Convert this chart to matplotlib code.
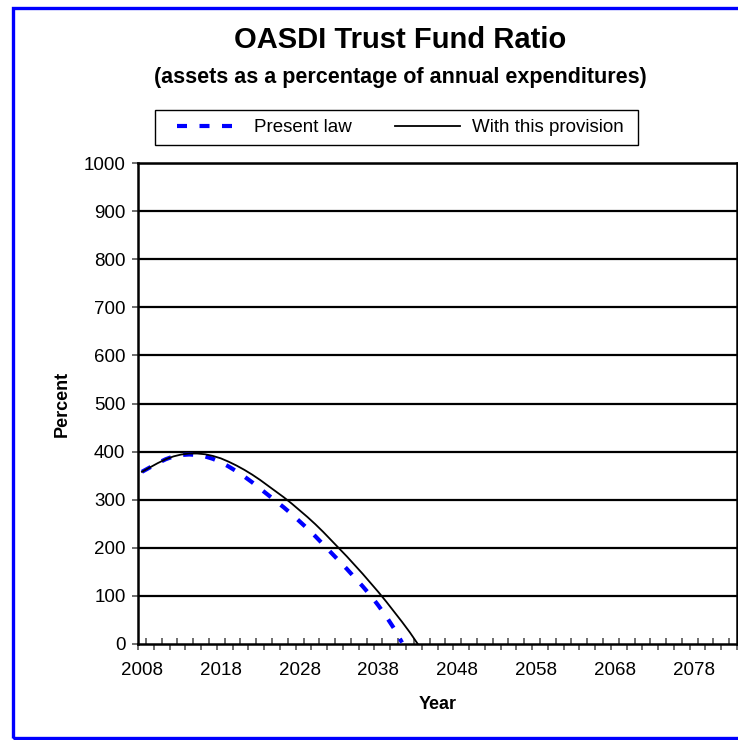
import matplotlib
matplotlib.use("Agg")
import matplotlib.pyplot as plt
from matplotlib.patches import Rectangle

plt.rcParams['font.family'] = ['Liberation Sans', 'DejaVu Sans']

# trust fund ratio, percent of annual expenditures
years_present = list(range(2008, 2042))
present_law = [358, 367, 376, 384, 390, 393, 394, 393, 390, 385,
               378, 369, 359, 348, 336, 323, 310, 297, 284, 270,
               255, 240, 224, 207, 190, 173, 156, 138, 120, 101,
               80, 57, 32, 3]

years_prov = list(range(2008, 2044))
with_provision = [358, 367, 376, 384, 390, 394, 396, 396, 394.5, 391,
                  386, 379, 371, 362, 352, 341, 329, 317, 305, 292,
                  278, 264, 249, 233, 216, 199, 182, 164, 146, 127,
                  108, 88, 67, 46, 24, 0]

year_labels = list(range(2008, 2079, 10))
y_ticks = list(range(0, 1001, 100))

fig = plt.figure(figsize=(7.38, 7.40), dpi=100)
ax = fig.add_axes([138/738, 1-644/740, 599/738, 481/740])

ax.plot(years_present, present_law, color='#0000FF', lw=3.0,
        dashes=(2.4, 3.0), dash_capstyle='butt', label='Present law', zorder=4)
ax.plot(years_prov, with_provision, color='black', lw=1.3,
        label='With this provision', zorder=5)

ax.set_xlim(2007.5, 2083.5)
ax.set_ylim(0, 1000)

# horizontal gridlines
for v in y_ticks[1:]:
    ax.axhline(v, color='black', lw=1.6, zorder=2)

for s in ax.spines.values():
    s.set_linewidth(1.8)
    s.set_color('black')

ax.set_yticks(y_ticks)
ax.tick_params(axis='y', direction='out', length=4, width=1.2, color='#555555',
               labelsize=13.5, pad=5)

# year labels centred on categories, tick marks between categories
ax.set_xticks(year_labels)
ax.set_xticklabels([str(y) for y in year_labels])
ax.tick_params(axis='x', which='major', length=0, labelsize=13.5, pad=13)
ax.set_xticks([y - 0.5 for y in range(2008, 2085, 2)], minor=True)
ax.tick_params(axis='x', which='minor', direction='out', length=4, width=1.2,
               color='#555555')
sec = ax.secondary_xaxis('bottom')
sec.set_xticks([y + 0.5 for y in range(2008, 2083, 2)])
sec.set_xticklabels([])
sec.tick_params(direction='in', length=4, width=1.2, color='#555555')
sec.spines['bottom'].set_visible(False)

ax.set_xlabel('Year', fontsize=13, fontweight='bold', labelpad=12)
ax.set_ylabel('Percent', fontsize=13, fontweight='bold', labelpad=9)

fig.text(400/738, 1-40/740, 'OASDI Trust Fund Ratio', fontsize=21,
         fontweight='bold', ha='center', va='center')
fig.text(400/738, 1-78/740, '(assets as a percentage of annual expenditures)',
         fontsize=15.5, fontweight='bold', ha='center', va='center')

# legend box and entries
fig.patches.append(Rectangle((155/738, 1-145/740), 483/738, 35/740,
                             transform=fig.transFigure, fill=False,
                             edgecolor='black', lw=1.0))
leg = fig.legend(loc='center left', bbox_to_anchor=(177/738, 1-127.5/740),
                 ncol=2, fontsize=13.5, frameon=False,
                 handlelength=3.5, handletextpad=0.6, borderpad=0,
                 columnspacing=2.3, borderaxespad=0)

# blue outer border
fig.patches.append(Rectangle((13/738, 2/740), 1.0, 1-10/740, transform=fig.transFigure,
                             fill=False, edgecolor='#0000FF', lw=2.4))

fig.savefig('out.png', dpi=100)
